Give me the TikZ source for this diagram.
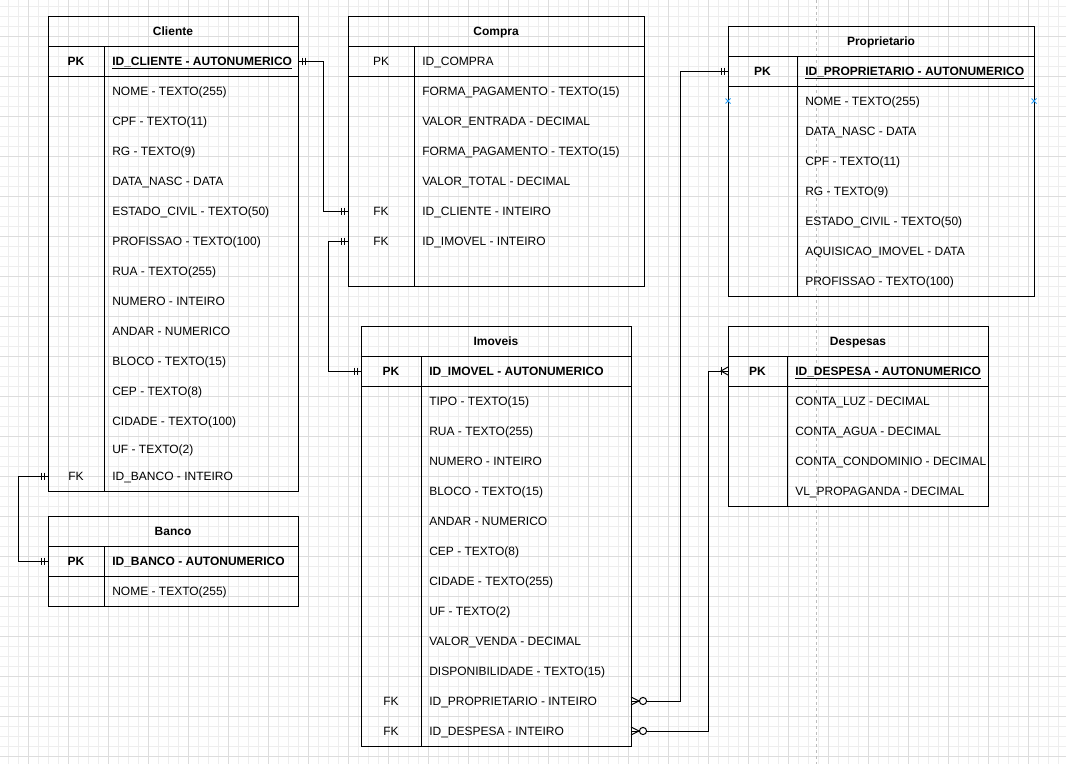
\documentclass[tikz,border=0pt]{standalone}
\usepackage{fontspec}
\setmainfont{Liberation Sans}
\usetikzlibrary{calc}
\definecolor{gridminor}{HTML}{EEEEEE}
\definecolor{gridmajor}{HTML}{DDDDDD}
\definecolor{hintblue}{HTML}{2A9DF4}
\definecolor{pagebreak}{HTML}{BDBDBD}
\begin{document}
\begin{tikzpicture}[x=0.75pt,y=-0.75pt,
  font=\fontsize{9pt}{11pt}\selectfont,
  tline/.style={draw=black, line width=0.75pt},
  conn/.style={draw=black, line width=0.75pt},
  ttl/.style={font=\fontsize{9pt}{11pt}\selectfont\bfseries, anchor=base, inner sep=0pt},
  keytxt/.style={anchor=base, inner sep=0pt},
  keybold/.style={anchor=base, inner sep=0pt, font=\fontsize{9pt}{11pt}\selectfont\bfseries},
  attr/.style={anchor=base west, inner sep=0pt},
  attrbold/.style={anchor=base west, inner sep=0pt, font=\fontsize{9pt}{11pt}\selectfont\bfseries},
  rowbox/.style={inner sep=0pt, outer sep=0pt, minimum height=22.5pt, anchor=center},
  gminor/.style={draw=gridminor, line width=0.75pt},
  gmajor/.style={draw=gridmajor, line width=0.75pt},
  hint/.style={draw=hintblue, line width=0.7pt}
]
\useasboundingbox (0,0) rectangle (1066,764);
\fill[white] (0,0) rectangle (1066,764);
% grid
\foreach \gx in {8,18,...,1066} \draw[gminor] (\gx,0) -- (\gx,764);
\foreach \gy in {6,16,...,764} \draw[gminor] (0,\gy) -- (1066,\gy);
\foreach \gx in {28,68,...,1066} \draw[gmajor] (\gx,0) -- (\gx,764);
\foreach \gy in {36,76,...,764} \draw[gmajor] (0,\gy) -- (1066,\gy);
% page break line
\draw[pagebreak, line width=0.75pt, dash pattern=on 2.25pt off 2.25pt] (816,0) -- (816,764);

% ---------------- Cliente ----------------
\draw[tline] (48,16) rectangle (298,491);
\draw[tline] (48,46) -- (298,46);
\draw[tline] (48,76) -- (298,76);
\draw[tline] (104,46) -- (104,491);
\node[ttl] (cliT) at (173,35.3) {Cliente};
\node[rowbox, minimum width=187.5pt] (cliPK) at (173,61) {};
\node[rowbox, minimum width=187.5pt] (cliFK) at (173,476) {};
\node[keybold] (cliPKk) at (76,65.3) {PK};
\node[attrbold] (cliPKa) at (112,65.3) {\underline{ID\_CLIENTE - AUTONUMERICO}};
\foreach \t [count=\i from 0] in {NOME - TEXTO(255), CPF - TEXTO(11), RG - TEXTO(9), DATA\_NASC - DATA, ESTADO\_CIVIL - TEXTO(50), PROFISSAO - TEXTO(100), RUA - TEXTO(255), NUMERO - INTEIRO, ANDAR - NUMERICO, BLOCO - TEXTO(15), CEP - TEXTO(8), CIDADE - TEXTO(100)}
  \node[attr] (cliA\i) at (112,{95.3+30*\i}) {\t};
\node[attr] (cliUF) at (112,453.3) {UF - TEXTO(2)};
\node[keytxt] (cliFKk) at (76,480.3) {FK};
\node[attr] (cliFKa) at (112,480.3) {ID\_BANCO - INTEIRO};

% ---------------- Banco ----------------
\draw[tline] (48,516) rectangle (298,606);
\draw[tline] (48,546) -- (298,546);
\draw[tline] (48,576) -- (298,576);
\draw[tline] (104,546) -- (104,606);
\node[ttl] (bncT) at (173,535.3) {Banco};
\node[rowbox, minimum width=187.5pt] (bncPK) at (173,561) {};
\node[keybold] (bncPKk) at (76,565.3) {PK};
\node[attrbold] (bncPKa) at (112,565.3) {ID\_BANCO - AUTONUMERICO};
\node[attr] (bncA0) at (112,595.3) {NOME - TEXTO(255)};

% ---------------- Compra ----------------
\draw[tline] (348,16) rectangle (644,286);
\draw[tline] (348,46) -- (644,46);
\draw[tline] (348,76) -- (644,76);
\draw[tline] (414,46) -- (414,286);
\node[ttl] (cmpT) at (496,35.3) {Compra};
\node[rowbox, minimum width=222pt] (cmpFKcli) at (496,211) {};
\node[rowbox, minimum width=222pt] (cmpFKimv) at (496,241) {};
\node[keytxt] (cmpPKk) at (381,65.3) {PK};
\node[attr] (cmpPKa) at (422,65.3) {ID\_COMPRA};
\foreach \t [count=\i from 0] in {FORMA\_PAGAMENTO - TEXTO(15), VALOR\_ENTRADA - DECIMAL, FORMA\_PAGAMENTO - TEXTO(15), VALOR\_TOTAL - DECIMAL, ID\_CLIENTE - INTEIRO, ID\_IMOVEL - INTEIRO}
  \node[attr] (cmpA\i) at (422,{95.3+30*\i}) {\t};
\node[keytxt] (cmpFK1) at (381,215.3) {FK};
\node[keytxt] (cmpFK2) at (381,245.3) {FK};

% ---------------- Proprietario ----------------
\draw[tline] (728,26) rectangle (1034,296);
\draw[tline] (728,56) -- (1034,56);
\draw[tline] (728,86) -- (1034,86);
\draw[tline] (797,56) -- (797,296);
\node[ttl] (prpT) at (881,45.3) {Proprietario};
\node[rowbox, minimum width=229.5pt] (prpPK) at (881,71) {};
\node[keybold] (prpPKk) at (762.5,75.3) {PK};
\node[attrbold] (prpPKa) at (805,75.3) {\underline{ID\_PROPRIETARIO - AUTONUMERICO}};
\foreach \t [count=\i from 0] in {NOME - TEXTO(255), DATA\_NASC - DATA, CPF - TEXTO(11), RG - TEXTO(9), ESTADO\_CIVIL - TEXTO(50), AQUISICAO\_IMOVEL - DATA, PROFISSAO - TEXTO(100)}
  \node[attr] (prpA\i) at (805,{105.3+30*\i}) {\t};
% connection hints
\draw[hint] (725.5,98.5) -- (730.5,103.5) (725.5,103.5) -- (730.5,98.5);
\draw[hint] (1031.5,98.5) -- (1036.5,103.5) (1031.5,103.5) -- (1036.5,98.5);

% ---------------- Imoveis ----------------
\draw[tline] (361,326) rectangle (631,746);
\draw[tline] (361,356) -- (631,356);
\draw[tline] (361,386) -- (631,386);
\draw[tline] (421,356) -- (421,746);
\node[ttl] (imvT) at (496,345.3) {Imoveis};
\node[rowbox, minimum width=202.5pt] (imvPK) at (496,371) {};
\node[rowbox, minimum width=202.5pt] (imvFKprp) at (496,701) {};
\node[rowbox, minimum width=202.5pt] (imvFKdsp) at (496,731) {};
\node[keybold] (imvPKk) at (391,375.3) {PK};
\node[attrbold] (imvPKa) at (429,375.3) {ID\_IMOVEL - AUTONUMERICO};
\foreach \t [count=\i from 0] in {TIPO - TEXTO(15), RUA - TEXTO(255), NUMERO - INTEIRO, BLOCO - TEXTO(15), ANDAR - NUMERICO, CEP - TEXTO(8), CIDADE - TEXTO(255), UF - TEXTO(2), VALOR\_VENDA - DECIMAL, DISPONIBILIDADE - TEXTO(15), ID\_PROPRIETARIO - INTEIRO, ID\_DESPESA - INTEIRO}
  \node[attr] (imvA\i) at (429,{405.3+30*\i}) {\t};
\node[keytxt] (imvFK1) at (391,705.3) {FK};
\node[keytxt] (imvFK2) at (391,735.3) {FK};

% ---------------- Despesas ----------------
\draw[tline] (728,326) rectangle (988,506);
\draw[tline] (728,356) -- (988,356);
\draw[tline] (728,386) -- (988,386);
\draw[tline] (787,356) -- (787,506);
\node[ttl] (dspT) at (858,345.3) {Despesas};
\node[rowbox, minimum width=195pt] (dspPK) at (858,371) {};
\node[keybold] (dspPKk) at (757.5,375.3) {PK};
\node[attrbold] (dspPKa) at (795,375.3) {\underline{ID\_DESPESA - AUTONUMERICO}};
\foreach \t [count=\i from 0] in {CONTA\_LUZ - DECIMAL, CONTA\_AGUA - DECIMAL, CONTA\_CONDOMINIO - DECIMAL, VL\_PROPAGANDA - DECIMAL}
  \node[attr] (dspA\i) at (795,{405.3+30*\i}) {\t};

% ---------------- Connectors ----------------
\draw[conn] (cliPK.east) -- ++(25,0) |- (cmpFKcli.west);
\draw[conn] (cmpFKimv.west) -- ++(-20,0) |- (imvPK.west);
\draw[conn] (cliFK.west) -- ++(-30,0) |- (bncPK.west);
\draw[conn] (imvFKprp.east) -- ++(49,0) |- (prpPK.west);
\draw[conn] (imvFKdsp.east) -- ++(77,0) |- (dspPK.west);

% double bars (mandatory one)
\foreach \a/\s in {cliPK.east/1, cmpFKcli.west/-1, cmpFKimv.west/-1, imvPK.west/-1, cliFK.west/-1, bncPK.west/-1, prpPK.west/-1}{
  \draw[conn] ($(\a)+(\s*4,-3.5)$) -- ++(0,7);
  \draw[conn] ($(\a)+(\s*7,-3.5)$) -- ++(0,7);
}
% zero-to-many at Imoveis side
\foreach \a in {imvFKprp.east, imvFKdsp.east}{
  \draw[conn] ($(\a)+(0,-4)$) -- ($(\a)+(8,0)$) -- ($(\a)+(0,4)$);
  \draw[conn, fill=white] ($(\a)+(12,0)$) circle[radius=2.7pt];
}
% one-to-many at Despesas side
\draw[conn] ($(dspPK.west)+(-7,-4)$) -- ++(0,8);
\draw[conn] ($(dspPK.west)+(0,-4)$) -- ($(dspPK.west)+(-7,0)$) -- ($(dspPK.west)+(0,4)$);
\end{tikzpicture}
\end{document}
